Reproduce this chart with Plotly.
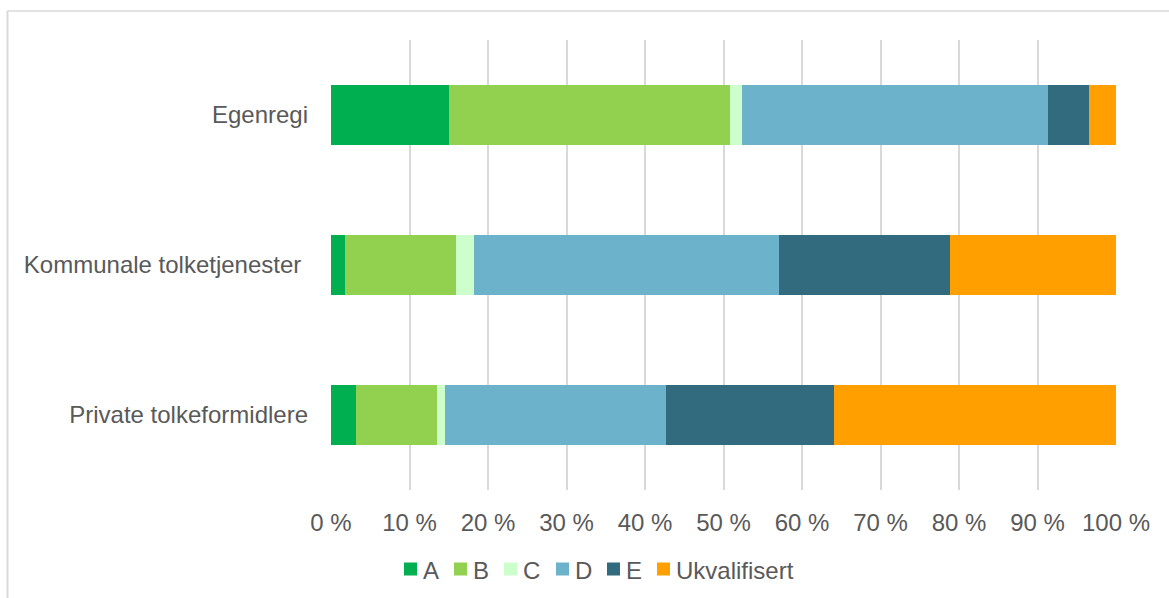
import plotly.graph_objects as go

categories = ["Egenregi", "Kommunale tolketjenester ", "Private tolkeformidlere"]
series_names = ["A", "B", "C", "D", "E", "Ukvalifisert"]
a_vals = [15.0, 1.8, 3.2]
b_vals = [35.8, 14.1, 10.3]
c_vals = [1.6, 2.3, 1.0]
d_vals = [38.9, 38.9, 28.2]
e_vals = [5.3, 21.8, 21.4]
u_vals = [3.4, 21.1, 35.9]
x_ticks = list(range(0, 101, 10))
x_tick_labels = [f"{t} %" for t in x_ticks]

colors = ["#00B050", "#92D050", "#CCFFCC", "#6BB2CA", "#316B7D", "#FFA000"]
values = [a_vals, b_vals, c_vals, d_vals, e_vals, u_vals]

fig = go.Figure()
for name, vals, col in zip(series_names, values, colors):
    fig.add_trace(go.Bar(
        name=name, y=categories, x=vals, orientation="h",
        marker=dict(color=col, line=dict(width=0)),
        showlegend=False,
    ))

L, R, T, B = 331, 53, 40, 108
W, H = 1169, 598
pw, ph = W - L - R, H - T - B


def px_x(v):
    return (v - L) / pw


def px_y(v):
    return (ph + T - v) / ph


font = dict(family="Liberation Sans, Arial, sans-serif", size=24, color="#595959")

# hand-placed legend row below the axis
legend_left = [404, 454, 504, 556, 607, 657]
sq, legend_cy = 13, 569
shapes = []
annotations = []
for name, col, x0 in zip(series_names, colors, legend_left):
    shapes.append(dict(
        type="rect", xref="paper", yref="paper",
        x0=px_x(x0), x1=px_x(x0 + sq),
        y0=px_y(legend_cy + sq / 2), y1=px_y(legend_cy - sq / 2),
        fillcolor=col, line=dict(width=0),
    ))
    annotations.append(dict(
        text=name, xref="paper", yref="paper",
        x=px_x(x0 + sq + 4), y=px_y(legend_cy + 1),
        xanchor="left", yanchor="middle", showarrow=False, font=font,
    ))

# outer frame: top and left edges
shapes += [
    dict(type="line", xref="paper", yref="paper",
         x0=px_x(7.5), x1=px_x(W + 5), y0=px_y(11), y1=px_y(11),
         line=dict(color="#D9D9D9", width=1.5)),
    dict(type="line", xref="paper", yref="paper",
         x0=px_x(7.5), x1=px_x(7.5), y0=px_y(11), y1=px_y(H + 5),
         line=dict(color="#D9D9D9", width=2)),
]

fig.update_layout(
    barmode="stack",
    bargap=0.6,
    width=W, height=H,
    margin=dict(l=L, r=R, t=T, b=B, pad=0),
    paper_bgcolor="white", plot_bgcolor="white",
    font=font,
    showlegend=False,
    xaxis=dict(
        range=[0, 100], tickvals=x_ticks, ticktext=x_tick_labels,
        showgrid=True, gridcolor="#D9D9D9", gridwidth=1.5,
        zeroline=False, showline=False, ticks="",
        ticklabelstandoff=16, fixedrange=True,
    ),
    yaxis=dict(
        categoryorder="array", categoryarray=categories[::-1],
        showgrid=False, zeroline=False, showline=False, ticks="",
        ticklabelstandoff=22, fixedrange=True,
    ),
    shapes=shapes,
    annotations=annotations,
)

fig.write_html("out.html")
